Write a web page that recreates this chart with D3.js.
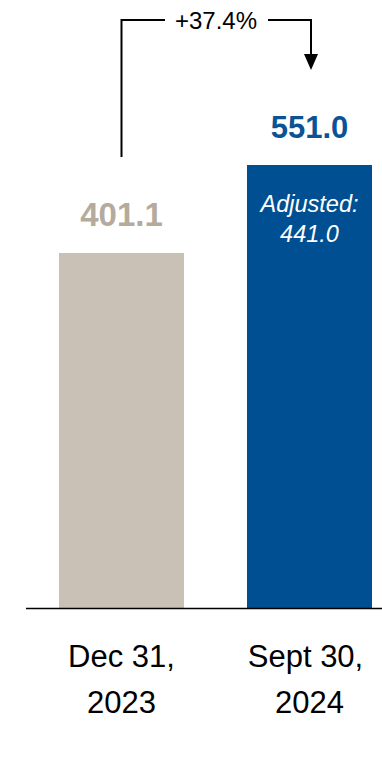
<!DOCTYPE html>
<html>
<head>
<meta charset="utf-8">
<script src="https://cdn.jsdelivr.net/npm/d3@7"></script>
<style>
  body { margin: 0; background: #fff; }
  svg { display: block; font-family: "Liberation Sans", Arial, sans-serif; }
</style>
</head>
<body>
<div class="chart"></div>
<script>
// data
let categories = ["Dec 31, 2023", "Sept 30, 2024"];
let labelLines = [["Dec 31,", "2023"], ["Sept 30,", "2024"]];
let values = [401.1, 551.0];
let adjustedValue = 441.0;
let changeLabel = "+37.4%";
let colorrange = ["#c9c1b5", "#004f93"];
let labelColors = ["#b5ab9d", "#0b5394"];

let width = 382, height = 771;
let baseY = 608;

let svg = d3.select(".chart").append("svg")
    .attr("width", width)
    .attr("height", height);

let x = d3.scalePoint()
    .domain(categories)
    .range([121.5, 309.5]);

// the source chart does not start its bars at zero
let y = d3.scaleLinear()
    .domain([-203.7, 551.0])
    .range([baseY, 165]);

let bw = 125;
let cx = function(c) { return x(c); };

svg.selectAll(".bar")
  .data(values)
  .enter().append("rect")
    .attr("class", "bar")
    .attr("x", function(d, i) { return cx(categories[i]) - bw / 2; })
    .attr("y", function(d) { return y(d); })
    .attr("width", bw)
    .attr("height", function(d) { return baseY - y(d); })
    .attr("fill", function(d, i) { return colorrange[i]; });

// axis line
svg.append("line")
    .attr("x1", 26).attr("x2", width)
    .attr("y1", baseY + 0.5).attr("y2", baseY + 0.5)
    .attr("stroke", "#000")
    .attr("stroke-width", 1.3);

// value labels
svg.selectAll(".val")
  .data(values)
  .enter().append("text")
    .attr("class", "val")
    .attr("x", function(d, i) { return cx(categories[i]); })
    .attr("y", function(d) { return y(d) - 27; })
    .attr("text-anchor", "middle")
    .attr("font-weight", "bold")
    .attr("font-size", function(d, i) { return i == 0 ? "33px" : "31px"; })
    .attr("fill", function(d, i) { return labelColors[i]; })
    .text(function(d) { return d.toFixed(1); });

// adjusted note inside second bar
let ax = cx(categories[1]);
svg.append("text")
    .attr("x", ax).attr("y", 212)
    .attr("text-anchor", "middle")
    .attr("font-style", "italic")
    .attr("font-size", "23.5px")
    .attr("fill", "#fff")
    .text("Adjusted:");
svg.append("text")
    .attr("x", ax).attr("y", 242)
    .attr("text-anchor", "middle")
    .attr("font-style", "italic")
    .attr("font-size", "23.5px")
    .attr("fill", "#fff")
    .text(adjustedValue.toFixed(1));

// category labels
svg.selectAll(".cat")
  .data(labelLines)
  .enter().append("text")
    .attr("class", "cat")
    .attr("text-anchor", "middle")
    .attr("font-size", "31px")
    .attr("fill", "#000")
  .each(function(lines, i) {
    let t = d3.select(this);
    lines.forEach(function(l, j) {
      t.append("tspan")
        .attr("x", cx(categories[i]) + (i == 1 && j == 0 ? -4 : 0))
        .attr("y", 667 + j * 46)
        .text(l);
    });
  });

// change bracket
let bx1 = cx(categories[0]), bx2 = cx(categories[1]) + 1.5, btop = 20;
svg.append("path")
    .attr("d", "M" + bx1 + "," + 157 + "V" + btop + "H" + 165)
    .attr("fill", "none").attr("stroke", "#000").attr("stroke-width", 2);
svg.append("path")
    .attr("d", "M" + 268 + "," + btop + "H" + bx2 + "V" + 55)
    .attr("fill", "none").attr("stroke", "#000").attr("stroke-width", 2);
svg.append("path")
    .attr("d", "M" + (bx2 - 7) + ",54L" + (bx2 + 7) + ",54L" + bx2 + ",70Z")
    .attr("fill", "#000");
svg.append("text")
    .attr("x", 216).attr("y", 28.5)
    .attr("text-anchor", "middle")
    .attr("font-size", "24px")
    .attr("fill", "#000")
    .text(changeLabel);
</script>
</body>
</html>
